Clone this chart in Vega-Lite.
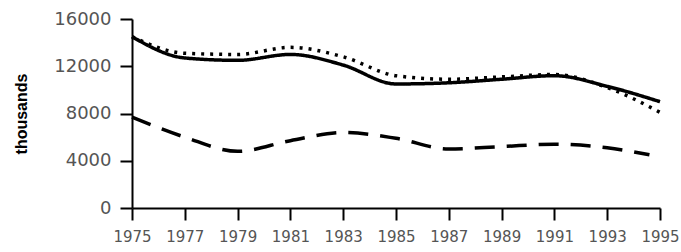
{
  "$schema": "https://vega.github.io/schema/vega-lite/v6.json",
  "autosize": {"type": "none"},
  "width": 528,
  "height": 189,
  "padding": {"left": 132, "top": 19, "right": 21, "bottom": 44},
  "background": "white",
  "config": {"view": {"stroke": null}, "font": "DejaVu Sans"},
  "data": {"values": [
    {"year": 1975, "series": "solid", "value": 14500},
    {"year": 1977, "series": "solid", "value": 12700},
    {"year": 1979, "series": "solid", "value": 12500},
    {"year": 1981, "series": "solid", "value": 13000},
    {"year": 1983, "series": "solid", "value": 12100},
    {"year": 1985, "series": "solid", "value": 10500},
    {"year": 1987, "series": "solid", "value": 10600},
    {"year": 1989, "series": "solid", "value": 10900},
    {"year": 1991, "series": "solid", "value": 11200},
    {"year": 1993, "series": "solid", "value": 10300},
    {"year": 1995, "series": "solid", "value": 9000},
    {"year": 1975, "series": "dotted", "value": 14500},
    {"year": 1977, "series": "dotted", "value": 13100},
    {"year": 1979, "series": "dotted", "value": 13000},
    {"year": 1981, "series": "dotted", "value": 13600},
    {"year": 1983, "series": "dotted", "value": 12800},
    {"year": 1985, "series": "dotted", "value": 11200},
    {"year": 1987, "series": "dotted", "value": 10900},
    {"year": 1989, "series": "dotted", "value": 11100},
    {"year": 1991, "series": "dotted", "value": 11300},
    {"year": 1993, "series": "dotted", "value": 10200},
    {"year": 1995, "series": "dotted", "value": 8100},
    {"year": 1975, "series": "dashed", "value": 7700},
    {"year": 1977, "series": "dashed", "value": 6000},
    {"year": 1979, "series": "dashed", "value": 4800},
    {"year": 1981, "series": "dashed", "value": 5700},
    {"year": 1983, "series": "dashed", "value": 6400},
    {"year": 1985, "series": "dashed", "value": 5900},
    {"year": 1987, "series": "dashed", "value": 5000},
    {"year": 1989, "series": "dashed", "value": 5200},
    {"year": 1991, "series": "dashed", "value": 5400},
    {"year": 1993, "series": "dashed", "value": 5100},
    {"year": 1994.6, "series": "dashed", "value": 4500}
  ]},
  "mark": {"type": "line", "strokeWidth": 3.5, "color": "black", "interpolate": "monotone"},
  "encoding": {
    "x": {"field": "year", "type": "quantitative",
      "scale": {"domain": [1975, 1995], "nice": false, "zero": false},
      "axis": {"values": [1975,1977,1979,1981,1983,1985,1987,1989,1991,1993,1995], "format": "d",
        "title": null, "grid": false, "domain": true, "domainColor": "black", "domainWidth": 2,
        "tickColor": "black", "tickWidth": 2, "tickSize": 12, "labelFontSize": 15, "labelColor": "#555",
        "labelPadding": 9, "labelFlush": false}},
    "y": {"field": "value", "type": "quantitative",
      "scale": {"domain": [0, 16000], "nice": false},
      "axis": {"values": [0, 4000, 8000, 12000, 16000], "format": "d", "title": "thousands",
        "titleFont": "Liberation Sans", "titleFontSize": 16, "titleFontWeight": "bold", "titleColor": "black", "titlePadding": 24,
        "grid": false, "domainColor": "black", "domainWidth": 2, "tickColor": "black", "tickWidth": 2,
        "tickSize": 12, "labelFontSize": 18, "labelColor": "#555", "labelPadding": 9}},
    "strokeDash": {"field": "series", "type": "nominal",
      "scale": {"domain": ["solid", "dotted", "dashed"], "range": [[1, 0], [3, 6], [20, 12]]},
      "legend": null},
    "detail": {"field": "series"}
  }
}
